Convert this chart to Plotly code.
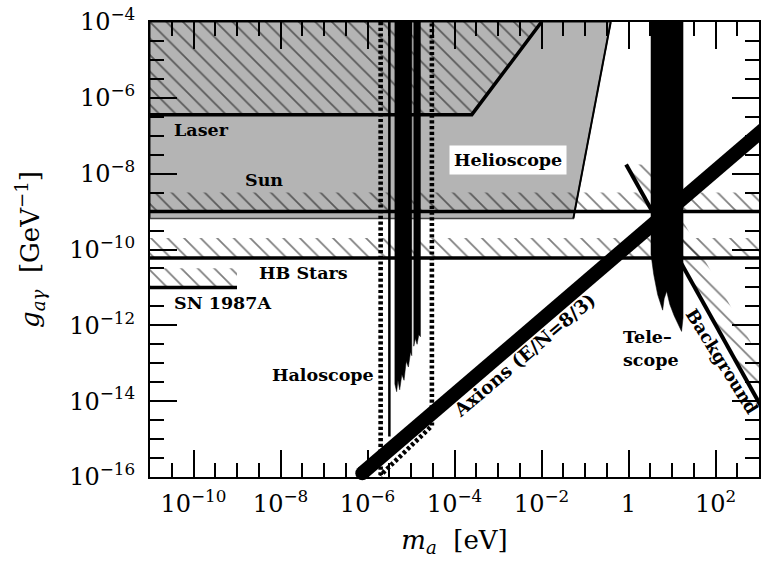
import plotly.graph_objects as go

# ---------------------------------------------------------------------------
# Axes: axion mass m_a [eV] (log) vs. axion-photon coupling g_a_gamma [GeV^-1]
# ---------------------------------------------------------------------------
x_range_log = [-11, 3]
y_range_log = [-16, -4]

x_major = [1e-10, 1e-8, 1e-6, 1e-4, 1e-2, 1, 1e2]
x_labels = ["10<sup>−10</sup>", "10<sup>−8</sup>", "10<sup>−6</sup>",
            "10<sup>−4</sup>", "10<sup>−2</sup>", "1", "10<sup>2</sup>"]
y_major = [1e-16, 1e-14, 1e-12, 1e-10, 1e-8, 1e-6, 1e-4]
y_labels = ["10<sup>−16</sup>", "10<sup>−14</sup>", "10<sup>−12</sup>",
            "10<sup>−10</sup>", "10<sup>−8</sup>", "10<sup>−6</sup>",
            "10<sup>−4</sup>"]

# ---------------------------------------------------------------------------
# Limits (m in eV, g in GeV^-1)
# ---------------------------------------------------------------------------
# Laser experiments: flat limit, rising at higher mass
laser_m = [1e-11, 2.5e-4, 1.0e-2]
laser_g = [3.6e-7, 3.6e-7, 1.0e-4]

# Helioscope excluded region (grey)
helio_m = [1e-11, 5.4e-2, 0.39, 1e-11]
helio_g = [6.6e-10, 6.6e-10, 1.0e-4, 1.0e-4]

# Solar age limit and its hatched band
sun_g = 1.0e-9
sun_band_g = 3.2e-9
# Horizontal-branch stars
hb_g = 6.0e-11
hb_band_g = 2.0e-10
# SN 1987A (only for very light axions)
sn_m_max = 1.0e-9
sn_g = 1.0e-11
sn_band_g = 3.2e-11

# Haloscope searches (log10 m, log10 g)
halo_main_logm = [-5.371, -5.371, -5.33, -5.30, -5.26, -5.21, -5.16, -5.11,
                  -5.06, -5.01, -4.982, -4.982]
halo_main_logg = [-4.0, -13.55, -13.75, -13.45, -13.7, -13.3, -13.45, -12.95,
                  -13.1, -12.7, -12.8, -4.0]
halo_bar_logm = [-4.936, -4.936, -4.90, -4.86, -4.82, -4.783, -4.783]
halo_bar_logg = [-4.0, -12.55, -12.35, -12.5, -12.25, -12.3, -4.0]
halo_line_logm = [-5.497, -5.497]
halo_line_logg = [-4.0, -14.93]
# Projected haloscope reach (dotted outline)
halo_proj_logm = [-5.698, -5.698, -4.52, -4.52]
halo_proj_logg = [-4.0, -15.95, -14.65, -4.0]

# Telescope search (log10 m, log10 g)
tele_logm = [0.517, 0.517, 0.58, 0.67, 0.785, 0.82, 0.877, 0.95, 1.05, 1.15,
             1.22, 1.254, 1.254]
tele_logg = [-4.0, -10.13, -10.66, -11.19, -11.6, -11.3, -11.1, -11.45,
             -11.75, -12.0, -12.16, -11.8, -4.0]

# Extragalactic background light limit (log10 m, log10 g)
bkg_logm = [-0.055, 3.05]
bkg_logg = [-7.76, -14.14]
bkg_band_logm = [-0.055, 3.05, 3.05, 0.525]
bkg_band_logg = [-7.76, -14.14, -12.94, -7.76]

# Axion models with E/N = 8/3
axion_m = [7.6e-7, 2.0e3]
axion_g = [1.26e-16, 2.3e-7]


def pw(vals):
    return [10 ** v for v in vals]


SERIF = "DejaVu Serif"
HATCH = dict(shape="\\", size=11.7, solidity=0.15, fgcolor="#000000",
             bgcolor="rgba(0,0,0,0)")
X_LO, X_HI = 10 ** x_range_log[0], 10 ** x_range_log[1]
Y_HI = 10 ** y_range_log[1]

fig = go.Figure()


def poly(xs, ys, fill=None, pattern=None, lw=0, lc="black"):
    fig.add_trace(go.Scatter(
        x=xs + xs[:1], y=ys + ys[:1], mode="lines", fill="toself",
        fillcolor=fill if fill else "rgba(0,0,0,0)",
        fillpattern=pattern, line=dict(width=lw, color=lc),
        hoverinfo="skip", showlegend=False))


def line(xs, ys, width=3.5, color="black", dash=None):
    fig.add_trace(go.Scatter(
        x=xs, y=ys, mode="lines",
        line=dict(width=width, color=color, dash=dash),
        hoverinfo="skip", showlegend=False))


# Helioscope grey region
poly(helio_m, helio_g, fill="#b4b4b4", lw=1.5, lc="#444444")
line(helio_m[1:3], helio_g[1:3], width=2)

# Hatched bands on the excluded side of each limit
poly([X_LO] + laser_m + [X_LO], [laser_g[0]] + laser_g[:2] + [Y_HI, Y_HI],
     pattern=HATCH)
poly([X_LO, X_HI, X_HI, X_LO], [sun_g, sun_g, sun_band_g, sun_band_g],
     pattern=HATCH)
poly([X_LO, X_HI, X_HI, X_LO], [hb_g, hb_g, hb_band_g, hb_band_g],
     pattern=HATCH)
poly([X_LO, sn_m_max, sn_m_max, X_LO], [sn_g, sn_g, sn_band_g, sn_band_g],
     pattern=HATCH)
poly(pw(bkg_band_logm), pw(bkg_band_logg), pattern=HATCH)

# Limit lines
line(laser_m, laser_g)
line([X_LO, X_HI], [sun_g, sun_g])
line([X_LO, X_HI], [hb_g, hb_g])
line([X_LO, sn_m_max], [sn_g, sn_g])
line(pw(bkg_logm), pw(bkg_logg), width=4)

# Haloscope results
poly(pw(halo_main_logm), pw(halo_main_logg), fill="black", lw=0.5)
poly(pw(halo_bar_logm), pw(halo_bar_logg), fill="black", lw=0.5)
line(pw(halo_line_logm), pw(halo_line_logg), width=2.5)
line(pw(halo_proj_logm), pw(halo_proj_logg), width=4.6, dash="3.2px,2.5px")

# Telescope
poly(pw(tele_logm), pw(tele_logg), fill="black", lw=0.5)

# Axion model band
line(axion_m, axion_g, width=14)
fig.add_trace(go.Scatter(
    x=axion_m[:1], y=axion_g[:1], mode="markers", cliponaxis=False,
    marker=dict(size=14, color="black", line=dict(width=0)),
    hoverinfo="skip", showlegend=False))


# Labels
def label(text, lx, ly, size=17.5, **kw):
    opts = dict(xanchor="left", yanchor="middle")
    opts.update(kw)
    fig.add_annotation(
        x=lx, y=ly, xref="x", yref="y", text=text, showarrow=False,
        font=dict(family=SERIF, size=size, color="black", weight="bold"),
        **opts)


label("Laser", -10.49, -6.86)
label("Sun", -8.87, -8.16)
label("Helioscope", -2.76, -7.64, xanchor="center", bgcolor="white",
      borderpad=4)
label("HB Stars", -8.53, -10.61)
label("SN 1987A", -10.5, -11.42)
label("Haloscope", -8.25, -13.3)
label("Tele–<br>scope", -0.17, -12.6, align="left")
label("Axions (E/N=8/3)", -2.4, -12.8, size=18.5, xanchor="center",
      textangle=-40.4)
label("Background", 2.16, -12.96, xanchor="center", textangle=58)

axis_common = dict(
    type="log", showgrid=False, zeroline=False,
    showline=True, linecolor="black", linewidth=2, mirror="allticks",
    ticks="inside", ticklen=27, tickwidth=1.8, tickcolor="black",
    tickfont=dict(family=SERIF, size=24, color="black"),
    tickmode="array",
)

fig.update_xaxes(
    **axis_common, range=x_range_log, tickvals=x_major, ticktext=x_labels,
    ticklabelstandoff=4,
    minor=dict(tickmode="array",
               tickvals=[10 ** (k / 2) for k in range(-21, 6)],
               ticks="inside", ticklen=14, tickwidth=1.8, tickcolor="black"),
    title=dict(text="<i>m</i><sub><i>a</i></sub>  [eV]",
               font=dict(family=SERIF, size=26, color="black"), standoff=14),
)
fig.update_yaxes(
    **axis_common, range=y_range_log, tickvals=y_major, ticktext=y_labels,
    ticklabelstandoff=8,
    minor=dict(tickmode="array",
               tickvals=[10 ** (k / 2) for k in range(-31, -8)],
               ticks="inside", ticklen=14, tickwidth=1.8, tickcolor="black"),
    title=dict(text="<i>g</i><sub><i>aγ</i></sub>  [GeV<sup>−1</sup>]",
               font=dict(family=SERIF, size=26, color="black"), standoff=22),
)

fig.update_layout(
    width=763, height=564,
    margin=dict(l=150, r=2, t=22, b=87),
    paper_bgcolor="white", plot_bgcolor="white",
    showlegend=False,
)

fig.write_html("out.html")
